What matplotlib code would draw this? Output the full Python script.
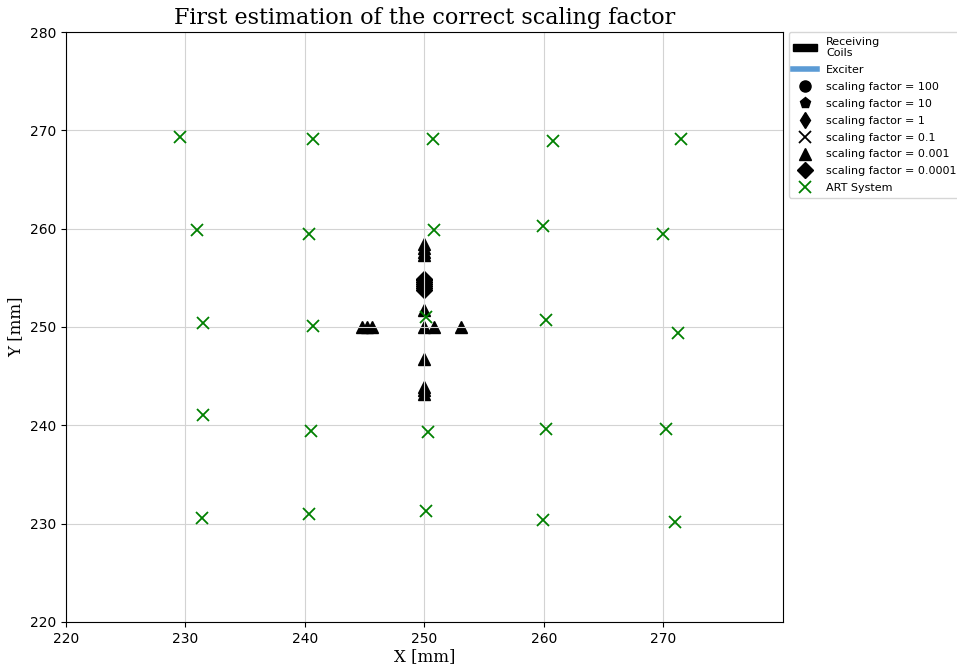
import matplotlib
matplotlib.use("Agg")
import matplotlib.pyplot as plt
from matplotlib.patches import Patch
from matplotlib.lines import Line2D

# ART system reference points [mm]
art_x = [229.5, 240.7, 250.7, 260.8, 271.5,
         231.0, 240.3, 250.8, 259.9, 270.0,
         231.5, 240.7, 250.1, 260.2, 271.2,
         231.5, 240.5, 250.3, 260.2, 270.2,
         231.4, 240.3, 250.1, 259.9, 271.0]
art_y = [269.3, 269.1, 269.1, 268.9, 269.1,
         259.9, 259.5, 259.9, 260.3, 259.5,
         250.4, 250.1, 251.0, 250.7, 249.4,
         241.0, 239.4, 239.3, 239.6, 239.6,
         230.6, 231.0, 231.3, 230.4, 230.2]

# estimated positions per scaling factor
sf100_x, sf100_y = [250.0, 250.0], [254.2, 254.6]
sf10_x, sf10_y = [250.0, 250.0], [254.3, 254.5]
sf1_x, sf1_y = [250.0, 250.0], [254.1, 254.7]
sf01_x, sf01_y = [250.0], [254.4]
sf0001_x = [250.0, 250.0, 250.0, 250.0, 250.0, 250.0, 250.8, 253.1,
            244.8, 245.2, 245.6, 250.0, 250.0, 250.0, 250.0]
sf0001_y = [258.4, 258.0, 257.6, 257.3, 251.7, 250.0, 250.0, 250.0,
            250.0, 250.0, 250.0, 246.7, 243.9, 243.6, 243.2]
sf00001_x = [250.0, 250.0, 250.0, 250.0, 250.0, 250.0, 250.0]
sf00001_y = [253.8, 254.0, 254.2, 254.4, 254.6, 254.8, 254.9]

fig = plt.figure(figsize=(9.57, 6.68), dpi=100)
ax = fig.add_axes([0.069, 0.069, 0.749, 0.883])

# black markers sit under the grid, like in the original
ax.plot(sf100_x, sf100_y, 'o', color='black', ms=8, zorder=1, label='scaling factor = 100')
ax.plot(sf10_x, sf10_y, 'p', color='black', ms=8, zorder=1, label='scaling factor = 10')
ax.plot(sf1_x, sf1_y, 'd', color='black', ms=9, zorder=1, label='scaling factor = 1')
ax.plot(sf01_x, sf01_y, 'x', color='black', ms=8, mew=1.3, zorder=1, label='scaling factor = 0.1')
ax.plot(sf0001_x, sf0001_y, '^', color='black', ms=8, zorder=1, label='scaling factor = 0.001')
ax.plot(sf00001_x, sf00001_y, 'D', color='black', ms=8.5, zorder=1, label='scaling factor = 0.0001')
ax.plot(art_x, art_y, 'x', color='green', ms=9, mew=1.3, zorder=2, label='ART System')

ax.set_xlim(220, 280)
ax.set_ylim(220, 280)
ax.set_xticks(range(220, 280, 10))
ax.set_yticks(range(220, 290, 10))
ax.tick_params(labelsize=10)
ax.grid(color='lightgray', linewidth=0.8)

ax.set_title("First estimation of the correct scaling factor", family='DejaVu Serif', fontsize=16)
ax.set_xlabel("X [mm]", family='DejaVu Serif', fontsize=12, labelpad=2)
ax.set_ylabel("Y [mm]", family='DejaVu Serif', fontsize=12)

handles, labels = ax.get_legend_handles_labels()
legend_markers = [Line2D([0], [0], marker=h.get_marker(), color=h.get_color(),
                         mew=h.get_markeredgewidth(), ms=8, ls='none') for h in handles]
extra = [Patch(facecolor='black', edgecolor='black'),
         Line2D([0], [0], color='#5b9bd5', lw=4)]
ax.legend(extra + legend_markers, ['Receiving\nCoils', 'Exciter'] + labels,
          loc='upper left', bbox_to_anchor=(1.008, 1.0), borderaxespad=0,
          fontsize=8, labelspacing=0.62, handlelength=2.2)

fig.savefig("out.png", dpi=100)
